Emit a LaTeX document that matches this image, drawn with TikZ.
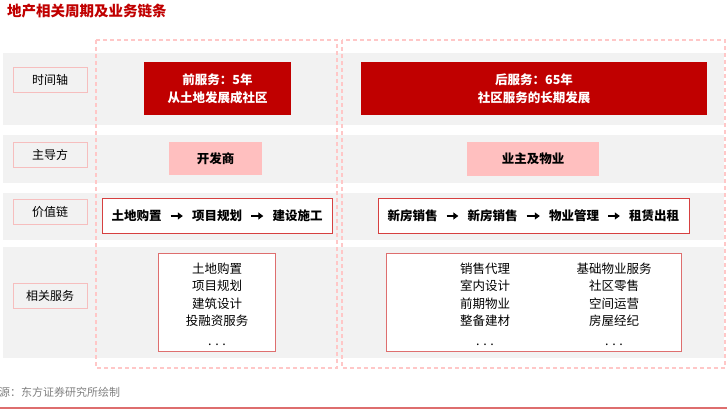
\documentclass[tikz,border=0pt]{standalone}
\usepackage{fontspec}
\setmainfont{Noto Sans CJK SC}
\usetikzlibrary{arrows.meta}
\definecolor{titlered}{RGB}{192,0,0}
\definecolor{bandgrey}{RGB}{242,242,242}
\definecolor{zonepink}{RGB}{255,199,199}
\definecolor{labelpink}{RGB}{246,190,190}
\definecolor{leadpink}{RGB}{255,191,191}
\definecolor{chainred}{RGB}{214,64,64}
\definecolor{servred}{RGB}{222,110,110}
\definecolor{notegrey}{RGB}{128,128,128}
\begin{document}
\begin{tikzpicture}[x=1pt,y=-1pt,
  band/.style={fill=bandgrey,draw=none},
  zone/.style={draw=zonepink,line width=1.2pt,dash pattern=on 4pt off 3pt},
  rowlabel/.style={draw=labelpink,line width=1pt,minimum width=74pt,minimum height=25pt,inner sep=0pt,font=\fontsize{12}{14}\selectfont},
  phasebox/.style={fill=titlered,draw=none,minimum height=53pt,inner sep=0pt,text=white,align=center,font=\bfseries\fontsize{12.5}{18}\selectfont},
  leadbox/.style={fill=leadpink,draw=none,inner sep=0pt,font=\bfseries\fontsize{12.5}{15}\selectfont},
  chainbox/.style={fill=white,draw=chainred,line width=1pt,minimum height=35pt,inner sep=0pt},
  chainstep/.style={inner sep=0pt,font=\bfseries\fontsize{12.5}{15}\selectfont},
  flow/.style={line width=1.8pt,-{Triangle[length=5pt,width=7pt]},shorten <=9pt,shorten >=9pt},
  servbox/.style={fill=white,draw=servred,line width=1pt,minimum height=98pt,inner sep=0pt},
  servlist/.style={inner sep=0pt,align=center,font=\fontsize{12.5}{17.5}\selectfont}]
\useasboundingbox (0,0) rectangle (727,415);
% title
\node[anchor=west,inner sep=0pt,text=titlered,font=\bfseries\fontsize{14.5}{17}\selectfont] (title) at (7,11) {地产相关周期及业务链条};
% grey rows
\path[band] (3,53) rectangle (724,125);
\path[band] (3,135) rectangle (724,183);
\path[band] (3,193) rectangle (724,240);
\path[band] (3,247) rectangle (724,358);
% the two phases
\draw[zone] (96,40) rectangle (337,368);
\draw[zone] (342,40) rectangle (725,368);
% row labels
\node[rowlabel] (lblTime) at (50,79.5) {时间轴};
\node[rowlabel] (lblLead) at (50,155) {主导方};
\node[rowlabel] (lblChain) at (50,212) {价值链};
\node[rowlabel] (lblServ) at (50,295.5) {相关服务};
% time axis
\node[phasebox,minimum width=147pt] (preTime) at (217.5,88.5) {前服务：5年\\从土地发展成社区};
\node[phasebox,minimum width=346pt] (postTime) at (534,88.5) {后服务：65年\\社区服务的长期发展};
% leading party
\node[leadbox,minimum width=93pt,minimum height=33pt] (preLead) at (215.5,158.5) {开发商};
\node[leadbox,minimum width=132pt,minimum height=34pt] (postLead) at (533,159) {业主及物业};
% value chain
\node[chainbox,minimum width=230pt] (preChain) at (217,215.5) {};
\node[chainstep] (land) at (136.5,216) {土地购置};
\node[chainstep] (plan) at (217,216) {项目规划};
\node[chainstep] (build) at (297.5,216) {建设施工};
\draw[flow] (land) -- (plan);
\draw[flow] (plan) -- (build);
\node[chainbox,minimum width=311pt] (postChain) at (533.5,215.5) {};
\node[chainstep] (saleA) at (412.5,216) {新房销售};
\node[chainstep] (saleB) at (492.5,216) {新房销售};
\node[chainstep] (manage) at (574,216) {物业管理};
\node[chainstep] (lease) at (654,216) {租赁出租};
\draw[flow] (saleA) -- (saleB);
\draw[flow] (saleB) -- (manage);
\draw[flow] (manage) -- (lease);
% related services
\node[servbox,minimum width=117pt] (preServ) at (216.5,302) {};
\node[servlist] (preList) at (217,304) {土地购置\\项目规划\\建筑设计\\投融资服务\\[2pt]. . .};
\node[servbox,minimum width=295pt] (postServ) at (533.5,302) {};
\node[servlist] (postListA) at (485,304) {销售代理\\室内设计\\前期物业\\整备建材\\[2pt]. . .};
\node[servlist] (postListB) at (614,304) {基础物业服务\\社区零售\\空间运营\\房屋经纪\\[2pt]. . .};
% source
\node[anchor=west,inner sep=0pt,text=notegrey,font=\fontsize{11}{13}\selectfont] (source) at (-1,392) {源：东方证券研究所绘制};
\draw[draw=servred,line width=1.2pt] (0,408) -- (727,408);
\end{tikzpicture}
\end{document}
